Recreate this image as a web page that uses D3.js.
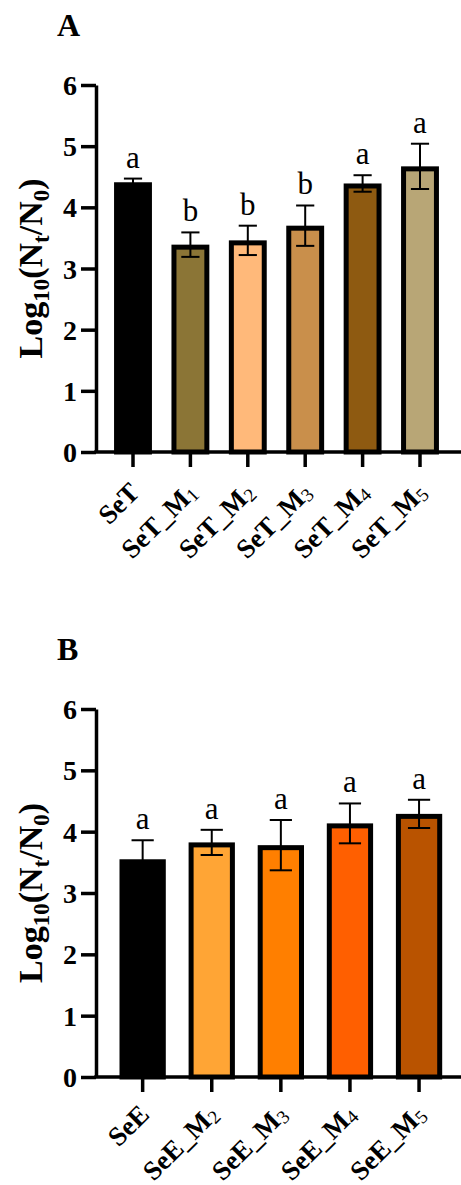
<!DOCTYPE html>
<html>
<head>
<meta charset="utf-8">
<script src="https://cdn.jsdelivr.net/npm/d3@7"></script>
<style>
  body { margin: 0; background: #fff; }
  text { font-family: "Liberation Serif", "Times New Roman", serif; }
</style>
</head>
<body>
<script>

// DATA

var catsA = ["SeT", "SeT_M1", "SeT_M2", "SeT_M3", "SeT_M4", "SeT_M5"];
var meanA = [4.41, 3.39, 3.46, 3.70, 4.39, 4.67];
var errA = [0.06, 0.20, 0.24, 0.33, 0.135, 0.37];
var lettersA = ["a", "b", "b", "b", "a", "a"];
var colorsA = ["#000000", "#8b7536", "#ffb97a", "#c98f4b", "#8e5a11", "#b8a676"];

var catsB = ["SeE", "SeE_M2", "SeE_M3", "SeE_M4", "SeE_M5"];
var meanB = [3.55, 3.825, 3.78, 4.135, 4.29];
var errB = [0.31, 0.205, 0.41, 0.325, 0.23];
var lettersB = ["a", "a", "a", "a", "a"];
var colorsB = ["#000000", "#ffa535", "#ff7f00", "#ff5f00", "#b95300"];

var yTicks = [0, 1, 2, 3, 4, 5, 6];

var W = 461, H = 1185;
var axisX = 96;
var sw = 5; // bar border

var svg = d3.select("body").append("svg")
    .attr("width", W)
    .attr("height", H);

function drawPanel(opt) {
    var g = svg.append("g");

    var y = d3.scaleLinear().domain([0, 6]).range([opt.y0, opt.y6]);
    var x = d3.scaleBand()
        .domain(opt.cats)
        .range(opt.xr)
        .paddingInner(opt.pad)
        .paddingOuter(opt.pad / 2);

    // panel letter
    g.append("text")
        .attr("x", 57)
        .attr("y", opt.titleY)
        .attr("font-size", 32)
        .attr("font-weight", "bold")
        .text(opt.title);

    // bars, border drawn inside the bar
    var bw = x.bandwidth();
    g.selectAll(".bar")
        .data(opt.mean)
        .enter().append("rect")
        .attr("class", "bar")
        .attr("x", function (d, i) { return x(opt.cats[i]) + sw / 2; })
        .attr("y", function (d) { return y(d) + sw / 2; })
        .attr("width", bw - sw)
        .attr("height", function (d) { return y(0) - y(d) - sw / 2; })
        .attr("fill", function (d, i) { return opt.colors[i]; })
        .attr("stroke", "#000")
        .attr("stroke-width", sw);

    // error bars
    var cap = bw * 0.24;
    var eb = g.selectAll(".err")
        .data(opt.mean)
        .enter().append("g")
        .attr("class", "err")
        .attr("stroke", "#000")
        .attr("stroke-width", 2);
    eb.append("line")
        .attr("x1", function (d, i) { return x(opt.cats[i]) + bw / 2; })
        .attr("x2", function (d, i) { return x(opt.cats[i]) + bw / 2; })
        .attr("y1", function (d, i) { return y(d - opt.err[i]); })
        .attr("y2", function (d, i) { return y(d + opt.err[i]); });
    eb.append("line")
        .attr("x1", function (d, i) { return x(opt.cats[i]) + bw / 2 - cap; })
        .attr("x2", function (d, i) { return x(opt.cats[i]) + bw / 2 + cap; })
        .attr("y1", function (d, i) { return y(d + opt.err[i]); })
        .attr("y2", function (d, i) { return y(d + opt.err[i]); });
    eb.append("line")
        .attr("x1", function (d, i) { return x(opt.cats[i]) + bw / 2 - cap; })
        .attr("x2", function (d, i) { return x(opt.cats[i]) + bw / 2 + cap; })
        .attr("y1", function (d, i) { return y(d - opt.err[i]); })
        .attr("y2", function (d, i) { return y(d - opt.err[i]); });

    // significance letters
    g.selectAll(".sig")
        .data(opt.letters)
        .enter().append("text")
        .attr("class", "sig")
        .attr("x", function (d, i) { return x(opt.cats[i]) + bw / 2; })
        .attr("y", function (d, i) { return y(opt.mean[i] + opt.err[i]) - 11; })
        .attr("text-anchor", "middle")
        .attr("font-size", 31)
        .text(function (d) { return d; });

    // y axis
    var yAxis = d3.axisLeft(y)
        .tickValues(yTicks)
        .tickFormat(d3.format("d"))
        .tickSize(15)
        .tickSizeOuter(0)
        .tickPadding(4);
    var gY = g.append("g")
        .attr("transform", "translate(" + axisX + ",0)")
        .call(yAxis);
    gY.select(".domain").attr("stroke-width", 3.5);
    gY.selectAll(".tick line").attr("stroke-width", 3.5);
    gY.selectAll(".tick text")
        .attr("font-size", 28)
        .attr("font-weight", "bold")
        .attr("dy", "0.34em")
        .attr("fill", "#000");

    // x axis
    var xAxis = d3.axisBottom(x)
        .tickSize(15)
        .tickSizeOuter(0)
        .tickFormat("");
    var gX = g.append("g")
        .attr("transform", "translate(0," + y(0) + ")")
        .call(xAxis);
    gX.select(".domain").remove();
    gX.selectAll(".tick line").attr("stroke-width", 3.5);
    g.append("line")
        .attr("x1", axisX - 1.75)
        .attr("x2", W)
        .attr("y1", y(0))
        .attr("y2", y(0))
        .attr("stroke", "#000")
        .attr("stroke-width", 3.5);

    // rotated category labels with subscripts
    var lab = g.selectAll(".xlab")
        .data(opt.cats)
        .enter().append("text")
        .attr("class", "xlab")
        .attr("text-anchor", "end")
        .attr("font-size", 27)
        .attr("font-weight", "bold")
        .attr("transform", function (d) {
            return "translate(" + (x(d) + bw / 2 + 8) + "," + (y(0) + opt.labDy) + ") rotate(-45)";
        });
    lab.each(function (d) {
        var t = d3.select(this);
        var m = d.match(/^(.*M)(\d)$/);
        if (m) {
            t.append("tspan").text(m[1]);
            t.append("tspan")
                .attr("font-size", 19)
                .attr("font-weight", "normal")
                .attr("dy", 3)
                .text(m[2]);
        } else {
            t.text(d);
        }
    });

    // y axis title
    var yt = g.append("text")
        .attr("transform", "translate(" + 42 + "," + ((opt.y0 + opt.y6) / 2) + ") rotate(-90)")
        .attr("text-anchor", "middle")
        .attr("font-size", 34)
        .attr("font-weight", "bold");
    yt.append("tspan").text("Log");
    yt.append("tspan").attr("font-size", 23).attr("dy", 7).text("10");
    yt.append("tspan").attr("dy", -7).text("(N");
    yt.append("tspan").attr("font-size", 23).attr("dy", 7).text("t");
    yt.append("tspan").attr("dy", -7).text("/N");
    yt.append("tspan").attr("font-size", 23).attr("dy", 7).text("0");
    yt.append("tspan").attr("dy", -7).text(")");
}

drawPanel({
    title: "A", titleY: 36,
    cats: catsA, mean: meanA, err: errA, letters: lettersA, colors: colorsA,
    y0: 452, y6: 85,
    xr: [104.3, 448.7], pad: 0.34, labDy: 42
});

drawPanel({
    title: "B", titleY: 660,
    cats: catsB, mean: meanB, err: errB, letters: lettersB, colors: colorsB,
    y0: 1077, y6: 709,
    xr: [108.1, 453.6], pad: 0.33, labDy: 39
});

</script>
</body>
</html>
